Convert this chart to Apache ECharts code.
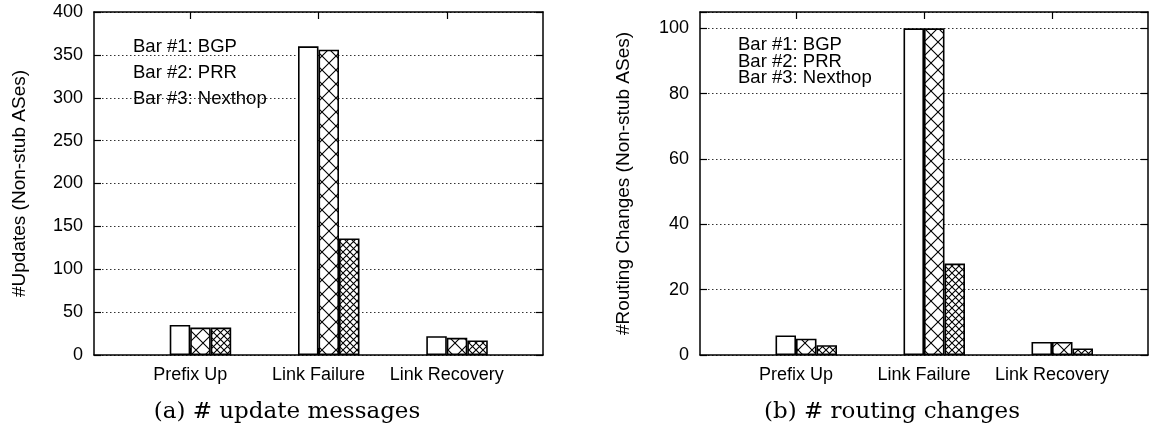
<!DOCTYPE html>
<html><head><meta charset="utf-8">
<script src="https://cdn.jsdelivr.net/npm/echarts@6/dist/echarts.min.js"></script>
<style>html,body{margin:0;padding:0;background:#fff}#c{width:1151px;height:434px}</style>
</head><body><div id="c"></div>
<script>
const categories = ['Prefix Up', 'Link Failure', 'Link Recovery'];
const updatesBGP = [35, 360, 22];
const updatesPRR = [32, 356, 20];
const updatesNexthop = [32, 136, 17];
const routingBGP = [6, 100, 4];
const routingPRR = [5, 100, 4];
const routingNexthop = [3, 28, 2];
const updatesTicks = [0, 50, 100, 150, 200, 250, 300, 350, 400];
const routingTicks = [0, 20, 40, 60, 80, 100];
const legendLines = ['Bar #1: BGP', 'Bar #2: PRR', 'Bar #3: Nexthop'];

function hatch(size) {
  const c = document.createElement('canvas');
  c.width = size; c.height = size;
  const g = c.getContext('2d');
  g.fillStyle = '#fff'; g.fillRect(0, 0, size, size);
  g.strokeStyle = '#000'; g.lineWidth = 1.1;
  g.beginPath();
  g.moveTo(0, 0); g.lineTo(size, size);
  g.moveTo(size, 0); g.lineTo(0, size);
  g.stroke();
  return c;
}
const coarse = {image: hatch(14), repeat: 'repeat'};
const fine = {image: hatch(7), repeat: 'repeat'};
const FONT = 'Liberation Sans, Arial, Helvetica, sans-serif';
const SERIF = 'DejaVu Serif, Liberation Serif, serif';
const idx = categories.map((_, i) => i);

function xAxes(gi) {
  const base = {
    type: 'value', gridIndex: gi, min: -0.75, max: 2.75,
    axisLine: {show: true, onZero: false, lineStyle: {color: '#000', width: 1.5}},
    splitLine: {show: false}
  };
  return [
    Object.assign({}, base, {
      position: 'bottom',
      axisTick: {show: true, inside: true, length: 7, customValues: idx, lineStyle: {color: '#000', width: 1.2}},
      axisLabel: {customValues: idx, formatter: v => categories[Math.round(v)], color: '#000', fontSize: 18, fontFamily: FONT, margin: 11}
    }),
    Object.assign({}, base, {
      position: 'top',
      axisTick: {show: true, inside: true, length: 7, customValues: idx, lineStyle: {color: '#000', width: 1.2}},
      axisLabel: {show: false}
    })
  ];
}
function yAxes(gi, ticks, max, name, gap) {
  const interval = ticks[1] - ticks[0];
  const base = {
    type: 'value', gridIndex: gi, min: ticks[0], max: max, interval: interval,
    axisLine: {show: true, onZero: false, lineStyle: {color: '#000', width: 1.5}},
    axisTick: {show: true, inside: true, length: 7, lineStyle: {color: '#000', width: 1.2}}
  };
  return [
    Object.assign({}, base, {
      position: 'left',
      name: name, nameLocation: 'middle', nameGap: gap, nameRotate: 90,
      nameTextStyle: {color: '#000', fontSize: 19, fontFamily: FONT},
      axisLabel: {color: '#000', fontSize: 18, fontFamily: FONT, margin: 11,
        formatter: v => (ticks.indexOf(v) >= 0 ? String(v) : '')},
      splitLine: {show: true, lineStyle: {color: '#333', width: 1, type: [1.5, 2.5]}}
    }),
    Object.assign({}, base, {
      position: 'right',
      axisLabel: {show: false},
      splitLine: {show: false}
    })
  ];
}
function bars(gi, a, b, c) {
  const common = {type: 'bar', xAxisIndex: gi * 2, yAxisIndex: gi * 2, barWidth: 20.5, barGap: '0%', silent: true};
  const border = {borderColor: '#000', borderWidth: 1.6};
  return [
    Object.assign({}, common, {data: idx.map(i => [i, 0]), itemStyle: {color: 'rgba(0,0,0,0)', borderWidth: 0}}),
    Object.assign({}, common, {data: a.map((v, i) => [i, v]), itemStyle: Object.assign({color: '#fff'}, border)}),
    Object.assign({}, common, {data: b.map((v, i) => [i, v]), itemStyle: Object.assign({color: coarse}, border)}),
    Object.assign({}, common, {data: c.map((v, i) => [i, v]), itemStyle: Object.assign({color: fine}, border)})
  ];
}
function legendText(x, y0, step) {
  return legendLines.map((t, i) => ({
    type: 'text', x: x, y: y0 + i * step,
    style: {text: t, fill: '#000', font: '18.5px ' + FONT, textVerticalAlign: 'middle'}
  }));
}

const chart = echarts.init(document.getElementById('c'), null, {renderer: 'canvas'});
chart.setOption({
  animation: false,
  backgroundColor: '#fff',
  grid: [
    {left: 94, top: 12, right: 608, bottom: 79},
    {left: 700, top: 12, right: 3, bottom: 79}
  ],
  xAxis: xAxes(0).concat(xAxes(1)),
  yAxis: yAxes(0, updatesTicks, 400, '#Updates (Non-stub ASes)', 65).concat(yAxes(1, routingTicks, 105, '#Routing Changes (Non-stub ASes)', 67)),
  series: bars(0, updatesBGP, updatesPRR, updatesNexthop).concat(bars(1, routingBGP, routingPRR, routingNexthop)),
  graphic: legendText(133, 47, 26).concat(legendText(738, 45, 16.5)).concat([
    {type: 'text', x: 287, y: 412, style: {text: '(a) # update messages', fill: '#000', font: '23px ' + SERIF, textAlign: 'center', textVerticalAlign: 'middle'}},
    {type: 'text', x: 892, y: 412, style: {text: '(b) # routing changes', fill: '#000', font: '23px ' + SERIF, textAlign: 'center', textVerticalAlign: 'middle'}}
  ])
});
</script></body></html>
